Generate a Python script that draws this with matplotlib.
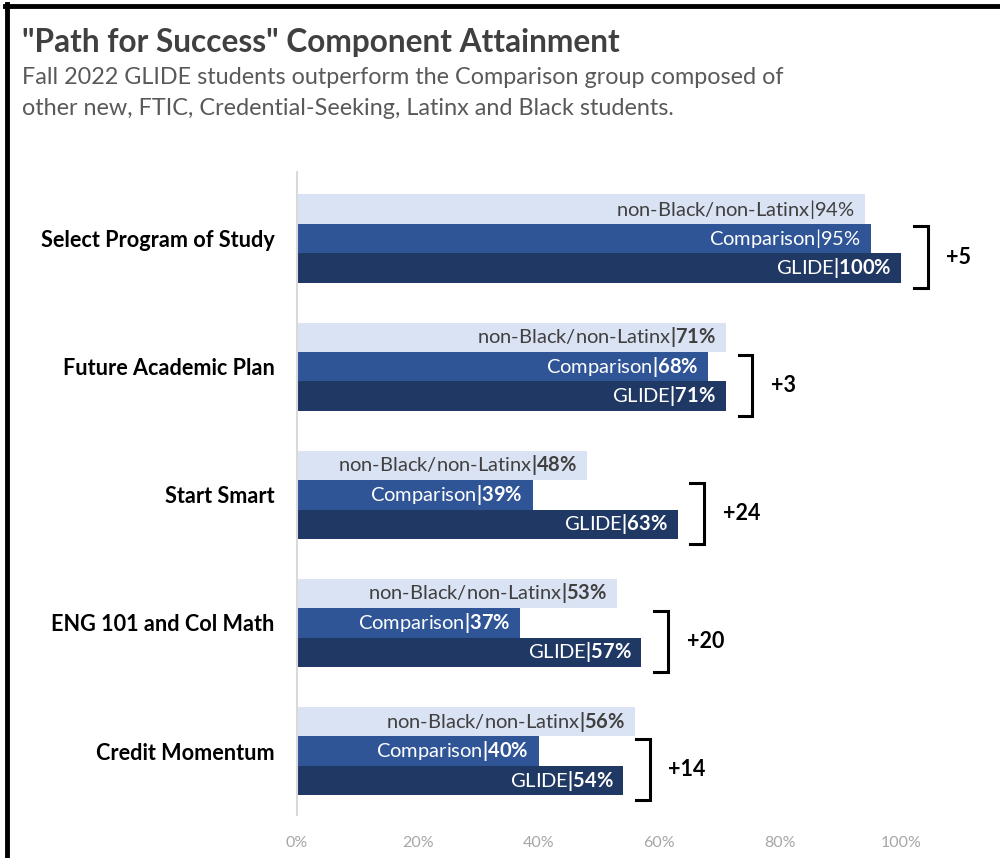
import matplotlib
matplotlib.use("Agg")
import matplotlib.pyplot as plt
from matplotlib.lines import Line2D
from matplotlib.ticker import PercentFormatter

plt.rcParams["font.family"] = ["Lato", "DejaVu Sans"]
plt.rcParams["mathtext.fontset"] = "custom"
plt.rcParams["mathtext.rm"] = "Lato"
plt.rcParams["mathtext.bf"] = "Lato:bold"

# DATA
categories = [
    "Select Program of Study",
    "Future Academic Plan",
    "Start Smart",
    "ENG 101 and Col Math",
    "Credit Momentum",
]
non_black_latinx = [94, 71, 48, 53, 56]
comparison = [95, 68, 39, 37, 40]
glide = [100, 71, 63, 57, 54]
# which groups have the percentage printed in bold
bold_pct = [
    [False, False, True],
    [True, True, True],
    [True, True, True],
    [True, True, True],
    [True, True, True],
]
series_names = ["non-Black/non-Latinx", "Comparison", "GLIDE"]

light = "#DAE3F3"
mid = "#2F5597"
dark = "#203864"

fig = plt.figure(figsize=(10, 8.58), dpi=100)
ax = fig.add_axes([0.297, 0.050, 0.698, 0.7495])

h = 0.23
for i, cat in enumerate(categories):
    vals = [non_black_latinx[i], comparison[i], glide[i]]
    ys = [i - h, i, i + h]
    cols = [light, mid, dark]
    tcols = ["#404040", "white", "white"]
    for j in range(3):
        ax.barh(ys[j], vals[j] / 100, height=h, color=cols[j], linewidth=0)
        pct = "%d\\%%" % vals[j]
        if bold_pct[i][j]:
            label = series_names[j] + "$\\mathbf{|" + pct + "}$"
        else:
            label = series_names[j] + "|$\\mathrm{" + pct + "}$"
        ax.annotate(label, (vals[j] / 100, ys[j]), xytext=(-7, 0),
                    textcoords="offset points", ha="right", va="center",
                    fontsize=14.5, color=tcols[j])

    # bracket with the GLIDE - Comparison difference
    x0 = max(comparison[i], glide[i]) / 100 + 0.021
    x1 = x0 + 0.023
    yt = i - h / 2 + 0.02
    yb = i + h * 1.5 + 0.04
    ax.plot([x0, x1, x1, x0], [yt, yt, yb, yb], color="black", lw=2.2,
            solid_joinstyle="miter", clip_on=False)
    diff = glide[i] - comparison[i]
    ax.text(x1 + 0.031, (yt + yb) / 2, "%+d" % diff, ha="left", va="center",
            fontsize=15.5, fontweight="bold", color="black")

ax.set_yticks(range(len(categories)))
ax.set_yticklabels(categories, fontsize=15.6, fontweight="bold", color="black")
ax.set_ylim(4.5, -0.52)
ax.set_xlim(0, 1.1556)
ax.set_xticks([0, 0.2, 0.4, 0.6, 0.8, 1.0])
ax.xaxis.set_major_formatter(PercentFormatter(1.0, decimals=0))
ax.tick_params(axis="x", length=0, labelsize=11.5, labelcolor="#A6A6A6", pad=15)
ax.tick_params(axis="y", length=0, pad=16)
for s in ["top", "right", "bottom"]:
    ax.spines[s].set_visible(False)
ax.spines["left"].set_color("#D9D9D9")
ax.spines["left"].set_linewidth(1.5)

fig.text(0.022, 0.939, "\"Path for Success\" Component Attainment",
         fontsize=22.8, fontweight="bold", color="#404040", va="baseline")
fig.text(0.022, 0.902, "Fall 2022 GLIDE students outperform the Comparison group composed of",
         fontsize=16.8, color="#595959", va="baseline")
fig.text(0.022, 0.866, "other new, FTIC, Credential-Seeking, Latinx and Black students.",
         fontsize=16.8, color="#595959", va="baseline")

# frame on top and left edge
fig.add_artist(Line2D([0.007, 0.007], [0, 0.995], transform=fig.transFigure,
                      color="black", lw=3.5))
fig.add_artist(Line2D([0.005, 1.0], [0.993, 0.993], transform=fig.transFigure,
                      color="black", lw=3.5))

fig.savefig("out.png", dpi=100, facecolor="white")
